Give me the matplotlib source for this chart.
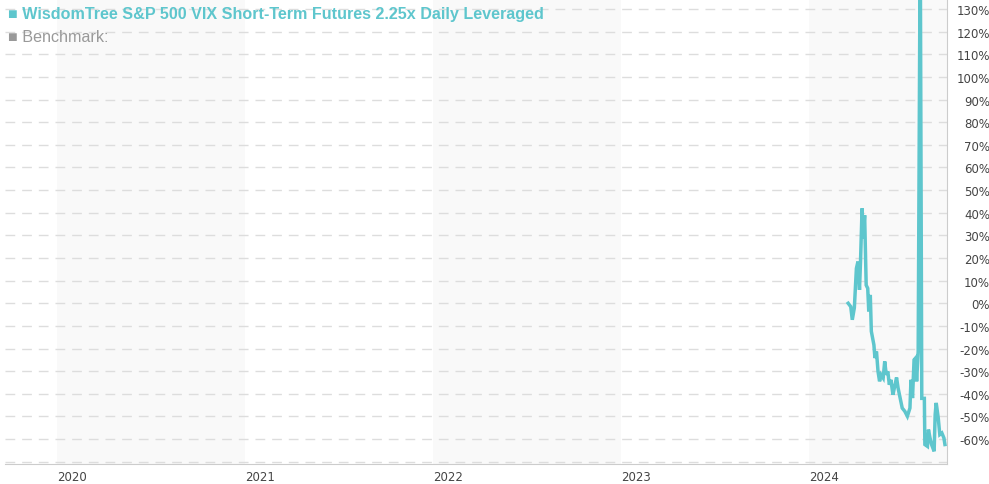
import pandas as pd
import matplotlib.pyplot as plt
import matplotlib.dates as mdates

# data (cumulative performance, %)
dates = ['2024-03-17', '2024-03-22', '2024-03-25', '2024-03-29', '2024-04-02', '2024-04-05',
         '2024-04-08', '2024-04-10', '2024-04-13', '2024-04-15', '2024-04-18', '2024-04-21',
         '2024-04-24', '2024-04-26', '2024-04-29', '2024-05-01', '2024-05-06', '2024-05-08',
         '2024-05-11', '2024-05-14', '2024-05-17', '2024-05-20', '2024-05-24', '2024-05-27',
         '2024-05-30', '2024-06-02', '2024-06-05', '2024-06-08', '2024-06-12', '2024-06-16',
         '2024-06-19', '2024-06-22', '2024-06-26', '2024-06-30', '2024-07-05', '2024-07-10',
         '2024-07-15', '2024-07-17', '2024-07-20', '2024-07-23', '2024-07-26', '2024-07-28',
         '2024-07-31', '2024-08-04', '2024-08-07', '2024-08-12', '2024-08-13', '2024-08-18',
         '2024-08-20', '2024-08-23', '2024-08-26', '2024-08-31', '2024-09-02', '2024-09-04',
         '2024-09-08', '2024-09-11', '2024-09-15', '2024-09-19', '2024-09-21']
perf = [0, -1.5, -7.3, -2, 15.4, 18.4,
        5.9, 18.5, 41.9, 28.6, 38.9, 8,
        6.6, -3.6, 3.7, -12.4, -18.4, -24.2,
        -21.3, -30.1, -34.5, -31.6, -33, -25.7,
        -31.6, -30.1, -36, -33.8, -40.4, -36,
        -32.8, -37.5, -41.9, -46.3, -47.7, -49.9,
        -46.3, -33.8, -41.9, -25, -24.2, -34.5,
        -21.3, 165, -42, -42, -62.4, -63.2,
        -55.8, -59.5, -62.4, -65.4, -49.2, -44,
        -50.7, -58, -57.3, -59.5, -62.4]
years = [2020, 2021, 2022, 2023, 2024]
y_ticks = list(range(-60, 131, 10))

fund_name = 'WisdomTree S&P 500 VIX Short-Term Futures 2.25x Daily Leveraged'
teal = '#5ec6cd'

df = pd.DataFrame({'date': pd.to_datetime(dates), 'perf': perf})

plt.rcParams['font.family'] = ['Liberation Sans', 'DejaVu Sans']
fig = plt.figure(figsize=(9.89, 4.85), dpi=100)
ax = fig.add_axes([5 / 989, 20 / 485, 942 / 989, 465 / 485])

x_min = pd.Timestamp('2019-09-22')
x_max = pd.Timestamp('2024-09-25')

# alternating year bands
for yr in years[::2]:
    ax.axvspan(pd.Timestamp(f'{yr}-01-01'), min(pd.Timestamp(f'{yr + 1}-01-01'), x_max),
               color='#f9f9f9', zorder=0, lw=0)

for v in y_ticks + [-70]:
    ax.axhline(v, color='#dddddd', lw=1, dashes=(7, 5), zorder=1)

ax.plot(df['date'], df['perf'], color=teal, lw=2.5, zorder=3, solid_joinstyle='miter')

ax.set_xlim(x_min, x_max)
ax.set_ylim(-71, 134.4)

for s in ['top', 'left']:
    ax.spines[s].set_visible(False)
for s in ['bottom', 'right']:
    ax.spines[s].set_color('#cccccc')

ax.set_xticks([pd.Timestamp(f'{y}-01-01') for y in years])
ax.xaxis.set_major_formatter(mdates.DateFormatter('%Y'))
for lbl in ax.get_xticklabels():
    lbl.set_horizontalalignment('left')
    lbl.set_family('DejaVu Sans')
ax.tick_params(axis='x', length=0, pad=4, labelsize=8.5, labelcolor='#444444')

ax.yaxis.tick_right()
ax.set_yticks(y_ticks)
ax.set_yticklabels([f'{v}%' for v in y_ticks], ha='right', family='DejaVu Sans')
ax.tick_params(axis='y', length=0, pad=31, labelsize=8.5, labelcolor='#444444')

fig.text(8 / 989, 1 - 14 / 485, '■ ' + fund_name, color=teal, fontsize=11.6,
         fontweight='bold', va='center', ha='left')
fig.text(8 / 989, 1 - 38 / 485, '■ Benchmark:', color='#999999', fontsize=11.6,
         va='center', ha='left')

plt.savefig('out.png', dpi=100)
